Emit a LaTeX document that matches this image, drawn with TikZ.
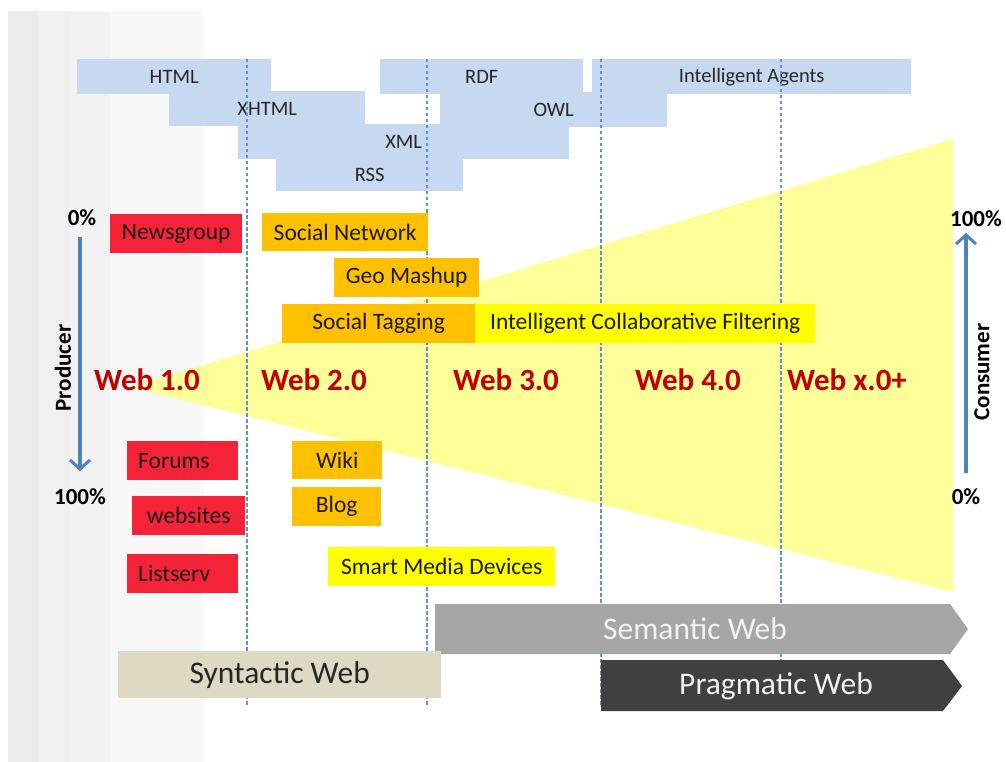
\documentclass[tikz,border=0pt]{standalone}
\usepackage{fontspec}
\setmainfont{Carlito}
\usepackage{xcolor}
\usetikzlibrary{arrows.meta}

\definecolor{barblue}{RGB}{198,217,240}
\definecolor{lineblue}{RGB}{79,129,189}
\definecolor{dashblue}{RGB}{96,146,210}
\definecolor{boxred}{RGB}{245,35,56}
\definecolor{boxorange}{RGB}{255,192,0}
\definecolor{boxyellow}{RGB}{255,255,0}
\definecolor{coneyellow}{RGB}{255,255,153}
\definecolor{erared}{RGB}{192,0,0}
\definecolor{semgray}{RGB}{166,166,166}
\definecolor{synbeige}{RGB}{221,217,195}
\definecolor{pragdark}{RGB}{64,64,64}

\begin{document}
\begin{tikzpicture}[
  x=1pt, y=-1pt,
  techbar/.style={fill=barblue, inner sep=0pt, anchor=north west, text=black!85, font=\fontsize{20.5}{24}\selectfont},
  tagbox/.style={inner sep=0pt, anchor=north west, text=black!90, font=\fontsize{23.5}{27}\selectfont},
  oldbox/.style={tagbox, fill=boxred},
  socialbox/.style={tagbox, fill=boxorange},
  smartbox/.style={tagbox, fill=boxyellow},
  era/.style={text=erared, font=\bfseries\fontsize{31}{35}\selectfont},
  phase/.style={inner sep=0pt, font=\fontsize{31.5}{36}\selectfont},
  axislabel/.style={inner sep=2pt, font=\bfseries\fontsize{23}{26}\selectfont},
  divider/.style={dashblue, line width=1.3pt, dash pattern=on 3.5pt off 2.5pt},
  role/.style={-{Straight Barb[length=9pt, width=20pt, line width=3pt]}, lineblue, line width=3.5pt}
]
\useasboundingbox[fill=white] (0,0) rectangle (1006,762);

% shaded left margin
\fill[black!8] (8,11) rectangle (38,762);
\fill[black!6] (38,11) rectangle (70,762);
\fill[black!5] (70,11) rectangle (110,762);
\fill[black!3] (110,11) rectangle (203,762);

% producer/consumer cone
\fill[coneyellow] (130,387) -- (953,139) -- (953,592) -- cycle;

% technologies
\node[techbar, minimum width=194pt, minimum height=35pt] (html) at (77,59) {HTML};
\node[techbar, minimum width=196pt, minimum height=35pt] (xhtml) at (169,91) {XHTML};
\node[techbar, minimum width=331pt, minimum height=35pt] (xml) at (238,124) {XML};
\node[techbar, minimum width=187pt, minimum height=32pt] (rss) at (276,159) {RSS};
\node[techbar, minimum width=203pt, minimum height=35pt] (rdf) at (380,59) {RDF};
\node[techbar, minimum width=227pt, minimum height=35pt] (owl) at (440,92) {OWL};
\node[techbar, minimum width=319pt, minimum height=35pt] (agents) at (592,59) {Intelligent Agents};

% era borders
\foreach \x in {247,427,601,781}
  \draw[divider] (\x,59) -- (\x,705);

% applications
\node[oldbox, minimum width=132pt, minimum height=39pt] (newsgroup) at (110,214) {Newsgroup};
\node[oldbox, minimum height=39pt, inner xsep=11pt, text width=89pt, align=left] (forums) at (127,441) {Forums};
\node[oldbox, minimum width=113pt, minimum height=39pt] (websites) at (132,496) {websites};
\node[oldbox, minimum height=39pt, inner xsep=11pt, text width=89pt, align=left] (listserv) at (127,554) {Listserv};
\node[socialbox, minimum width=166pt, minimum height=38pt] (socialnet) at (262,213) {Social Network};
\node[socialbox, minimum width=145pt, minimum height=39pt] (geomashup) at (334,258) {Geo Mashup};
\node[socialbox, minimum width=193pt, minimum height=39pt] (tagging) at (282,304) {Social Tagging};
\node[smartbox, minimum width=340pt, minimum height=39pt] (filtering) at (475,304) {Intelligent Collaborative Filtering};
\node[socialbox, minimum width=90pt, minimum height=38pt] (wiki) at (292,441) {Wiki};
\node[socialbox, minimum width=89pt, minimum height=39pt] (blog) at (292,487) {Blog};
\node[smartbox, minimum width=227pt, minimum height=39pt] (smartmedia) at (328,547) {Smart Media Devices};

% eras
\node[era] (webone) at (147,380) {Web 1.0};
\node[era] (webtwo) at (314,380) {Web 2.0};
\node[era] (webthree) at (506,380) {Web 3.0};
\node[era] (webfour) at (688,380) {Web 4.0};
\node[era] (webx) at (847,380) {Web x.0+};

% producer and consumer axes
\node[axislabel] (prodtop) at (82,218) {0\%};
\node[axislabel] (prodbot) at (80,497) {100\%};
\node[axislabel, rotate=90] (producer) at (63,368) {Producer};
\coordinate (prodstart) at (80,237);
\coordinate (prodend) at (80,471);
\draw[role] (prodstart) -- (prodend);

\node[axislabel] (constop) at (976,219) {100\%};
\node[axislabel] (consbot) at (966,497) {0\%};
\node[axislabel, rotate=90] (consumer) at (982,372) {Consumer};
\coordinate (consstart) at (966,473);
\coordinate (consend) at (966,233);
\draw[role] (consstart) -- (consend);

% webs
\fill[semgray] (435,604) -- (950,604) -- (968,629) -- (950,654) -- (435,654) -- cycle;
\node[phase, text=white!95!black] (semantic) at (695,629) {Semantic Web};
\node[phase, fill=synbeige, anchor=north west, minimum width=323pt, minimum height=47pt, text=black!85] (syntactic) at (118,651) {Syntactic Web};
\fill[pragdark] (601,660) -- (943,660) -- (962,686) -- (943,711) -- (601,711) -- cycle;
\node[phase, text=white!95!black] (pragmatic) at (776,686) {Pragmatic Web};

\end{tikzpicture}
\end{document}
